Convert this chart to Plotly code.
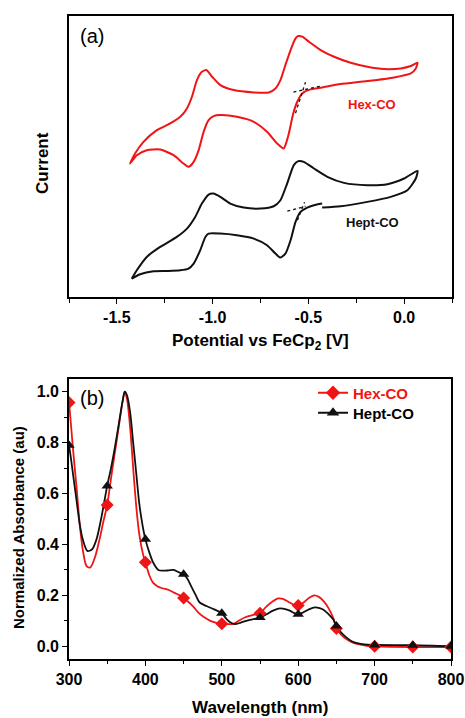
import plotly.graph_objects as go

# ---------------- Panel (a): cyclic voltammograms ----------------
hex_cv_potential = [
    -1.431, -1.405, -1.361, -1.291, -1.222, -1.169, -1.134, -1.108, -1.082, -1.056,
    -1.033, -1.003, -0.960, -0.890, -0.785, -0.707, -0.672, -0.646, -0.620, -0.593,
    -0.567, -0.553, -0.532, -0.497, -0.436, -0.366, -0.279, -0.192, -0.105, -0.017,
    0.035, 0.070,
    0.061, 0.035, -0.052, -0.192, -0.332, -0.428, -0.489, -0.532, -0.558, -0.579,
    -0.602, -0.620, -0.628, -0.663, -0.716, -0.785, -0.873, -0.960, -0.995, -1.021,
    -1.047, -1.073, -1.099, -1.126, -1.152, -1.204, -1.274, -1.344, -1.396, -1.431]
hex_cv_current = [
    4.00, 4.30, 4.65, 5.00, 5.20, 5.40, 5.65, 6.00, 6.50, 6.75,
    6.80, 6.60, 6.35, 6.20, 6.13, 6.13, 6.25, 6.50, 6.95, 7.40,
    7.75, 7.82, 7.80, 7.65, 7.40, 7.20, 7.02, 6.90, 6.83, 6.85,
    6.92, 7.02,
    6.85, 6.70, 6.58, 6.47, 6.38, 6.28, 6.22, 6.10, 5.85, 5.50,
    4.90, 4.55, 4.45, 4.60, 4.95, 5.25, 5.40, 5.45, 5.42, 5.30,
    4.95, 4.40, 4.05, 3.90, 4.00, 4.25, 4.42, 4.40, 4.25, 4.00]

hept_cv_potential = [
    -1.422, -1.396, -1.344, -1.274, -1.187, -1.134, -1.091, -1.056, -1.021, -0.995,
    -0.960, -0.908, -0.838, -0.750, -0.681, -0.646, -0.611, -0.576, -0.553, -0.524,
    -0.471, -0.401, -0.314, -0.192, -0.087, 0.000, 0.070,
    0.061, 0.017, -0.070, -0.192, -0.332, -0.428, None,
    -0.428, -0.471, -0.506, -0.541, -0.567, -0.593, -0.620, -0.646, -0.672, -0.716,
    -0.785, -0.873, -0.960, -1.021, -1.038, -1.065, -1.099, -1.126, -1.169, -1.239,
    -1.309, -1.379, -1.422]
hept_cv_current = [
    0.55, 0.80, 1.20, 1.50, 1.80, 2.05, 2.40, 2.80, 3.07, 3.10,
    3.00, 2.80, 2.68, 2.65, 2.72, 2.90, 3.40, 3.95, 4.07, 4.05,
    3.85, 3.60, 3.42, 3.35, 3.38, 3.55, 3.78,
    3.55, 3.20, 3.00, 2.85, 2.72, 2.68, None,
    2.80, 2.75, 2.68, 2.55, 2.25, 1.70, 1.30, 1.18, 1.30, 1.55,
    1.75, 1.85, 1.90, 1.90, 1.80, 1.40, 1.00, 0.85, 0.80, 0.78,
    0.77, 0.68, 0.55]

# tangent (baseline) construction lines, dotted
hex_tangent1_potential = [-0.567, -0.515]
hex_tangent1_current = [5.51, 6.44]
hex_tangent2_potential = [-0.578, -0.436]
hex_tangent2_current = [6.14, 6.32]
hept_tangent1_potential = [-0.557, -0.520]
hept_tangent1_current = [2.30, 2.84]
hept_tangent2_potential = [-0.610, -0.515]
hept_tangent2_current = [2.57, 2.72]

cv_tickvals = [-1.5, -1.0, -0.5, 0.0]
cv_ticktext = ["-1.5", "-1.0", "-0.5", "0.0"]

# ---------------- Panel (b): UV-vis absorbance ----------------
hex_wavelength = [
    300, 302, 306, 310, 314, 318, 323, 328, 334, 340, 345, 350, 355, 360, 365, 370,
    373, 376, 380, 384, 388, 392, 397, 400, 405, 410, 415, 422, 430, 438, 445, 450,
    456, 462, 470, 478, 485, 493, 500, 508, 515, 522, 530, 540, 550, 558, 566, 574,
    580, 587, 594, 600, 607, 614, 621, 627, 633, 640, 646, 650, 655, 662, 670, 680,
    690, 700, 750, 800]
hex_absorbance = [
    0.96, 0.89, 0.75, 0.62, 0.48, 0.38, 0.315, 0.31, 0.35, 0.42, 0.49, 0.555, 0.66, 0.76, 0.86, 0.96,
    1.00, 0.97, 0.86, 0.70, 0.55, 0.44, 0.36, 0.33, 0.28, 0.25, 0.237, 0.228, 0.222, 0.21, 0.20, 0.19,
    0.175, 0.158, 0.13, 0.112, 0.10, 0.092, 0.088, 0.087, 0.088, 0.10, 0.113, 0.122, 0.13, 0.155, 0.175, 0.188,
    0.186, 0.175, 0.163, 0.16, 0.172, 0.19, 0.20, 0.194, 0.178, 0.148, 0.11, 0.07, 0.05, 0.03, 0.016, 0.007,
    0.002, 0.0, -0.003, -0.003]

hept_wavelength = [
    300, 302, 306, 310, 314, 318, 324, 330, 336, 342, 350, 355, 360, 365, 370, 373,
    376, 380, 384, 388, 392, 396, 400, 405, 410, 417, 423, 430, 437, 444, 450, 455,
    460, 466, 471, 480, 490, 500, 506, 511, 517, 525, 532, 540, 550, 558, 567, 574,
    580, 589, 595, 600, 606, 614, 622, 628, 634, 640, 646, 650, 656, 663, 670, 680,
    690, 700, 750, 800]
hept_absorbance = [
    0.79, 0.75, 0.66, 0.57, 0.48, 0.42, 0.375, 0.38, 0.42, 0.50, 0.63, 0.70, 0.78, 0.87, 0.96, 1.00,
    0.985, 0.92, 0.80, 0.68, 0.56, 0.48, 0.42, 0.37, 0.33, 0.30, 0.297, 0.298, 0.30, 0.29, 0.283, 0.265,
    0.235, 0.20, 0.172, 0.158, 0.145, 0.13, 0.108, 0.094, 0.087, 0.093, 0.10, 0.106, 0.113, 0.125, 0.14, 0.148,
    0.148, 0.14, 0.13, 0.126, 0.132, 0.145, 0.153, 0.15, 0.142, 0.125, 0.105, 0.08, 0.055, 0.035, 0.02, 0.01,
    0.006, 0.005, 0.004, 0.0]

marker_wavelength = [300, 350, 400, 450, 500, 550, 600, 650, 700, 750, 800]
hex_marker_abs = [0.958, 0.555, 0.33, 0.19, 0.088, 0.13, 0.16, 0.07, 0.0, -0.003, -0.003]
hept_marker_abs = [0.79, 0.63, 0.42, 0.283, 0.13, 0.113, 0.126, 0.08, 0.005, 0.004, 0.0]

RED = "#f01414"
BLACK = "#111111"
FONT = "Liberation Sans, Arial, sans-serif"

W, H = 465, 718
def px_x(p):
    return p / W
def px_y(p):
    return 1 - p / H

fig = go.Figure()

# panel a traces
fig.add_trace(go.Scatter(x=hex_cv_potential, y=hex_cv_current, mode="lines",
                         line=dict(color=RED, width=2, shape="spline", smoothing=0.6),
                         xaxis="x", yaxis="y", showlegend=False, connectgaps=False))
fig.add_trace(go.Scatter(x=hept_cv_potential, y=hept_cv_current, mode="lines",
                         line=dict(color=BLACK, width=2, shape="spline", smoothing=0.6),
                         xaxis="x", yaxis="y", showlegend=False, connectgaps=False))
for xs, ys in [(hex_tangent1_potential, hex_tangent1_current),
               (hex_tangent2_potential, hex_tangent2_current),
               (hept_tangent1_potential, hept_tangent1_current),
               (hept_tangent2_potential, hept_tangent2_current)]:
    fig.add_trace(go.Scatter(x=xs, y=ys, mode="lines",
                             line=dict(color=BLACK, width=1.3, dash="dot"),
                             xaxis="x", yaxis="y", showlegend=False))

# panel b traces
fig.add_trace(go.Scatter(x=hex_wavelength, y=hex_absorbance, mode="lines",
                         line=dict(color=RED, width=1.8, shape="spline", smoothing=0.8),
                         xaxis="x2", yaxis="y2", showlegend=False))
fig.add_trace(go.Scatter(x=hept_wavelength, y=hept_absorbance, mode="lines",
                         line=dict(color=BLACK, width=1.8, shape="spline", smoothing=0.8),
                         xaxis="x2", yaxis="y2", showlegend=False))
fig.add_trace(go.Scatter(x=marker_wavelength, y=hex_marker_abs, mode="markers",
                         marker=dict(symbol="diamond", size=10, color=RED),
                         xaxis="x2", yaxis="y2", showlegend=False, cliponaxis=True))
fig.add_trace(go.Scatter(x=marker_wavelength, y=hept_marker_abs, mode="markers",
                         marker=dict(symbol="triangle-up", size=10, color=BLACK),
                         xaxis="x2", yaxis="y2", showlegend=False, cliponaxis=True))
# legend entries (two single-item legends for exact row spacing)
fig.add_trace(go.Scatter(x=[None], y=[None], mode="lines+markers",
                         name="<span style='color:%s'><b>Hex-CO</b></span>" % RED,
                         line=dict(color=RED, width=2),
                         marker=dict(symbol="diamond", size=11, color=RED),
                         xaxis="x2", yaxis="y2", showlegend=True, legend="legend"))
fig.add_trace(go.Scatter(x=[None], y=[None], mode="lines+markers",
                         name="<b>Hept-CO</b>",
                         line=dict(color=BLACK, width=2),
                         marker=dict(symbol="triangle-up", size=11, color=BLACK),
                         xaxis="x2", yaxis="y2", showlegend=True, legend="legend2"))

frame = dict(showline=True, linecolor="black", linewidth=1.6, mirror=True,
             showgrid=False, zeroline=False, automargin=False)
tickfont = dict(family=FONT, size=16, color="black", weight="bold")
legfont = dict(family=FONT, size=15, color="black")

fig.update_layout(
    width=W, height=H,
    autosize=False,
    margin=dict(l=0, r=0, t=0, b=0, pad=0, autoexpand=False),
    paper_bgcolor="white", plot_bgcolor="white",
    xaxis=dict(domain=[px_x(69), px_x(452)], anchor="y", range=[-1.75, 0.25],
               tickmode="array", tickvals=cv_tickvals, ticktext=cv_ticktext,
               ticks="outside", ticklen=5, tickwidth=1.3, tickcolor="black",
               minor=dict(ticks="outside", dtick=0.25, tick0=0, ticklen=4, tickwidth=1.3, tickcolor="black"),
               tickfont=tickfont, **frame),
    yaxis=dict(domain=[px_y(297), px_y(16)], anchor="x", range=[0, 8.42],
               showticklabels=False, ticks="", **frame),
    xaxis2=dict(domain=[px_x(69), px_x(451)], anchor="y2", range=[300, 800],
                tick0=300, dtick=100,
                ticks="outside", ticklen=5, tickwidth=1.3, tickcolor="black",
                minor=dict(ticks="outside", dtick=50, ticklen=3, tickwidth=1.3, tickcolor="black"),
                tickfont=tickfont, **frame),
    yaxis2=dict(domain=[px_y(659), px_y(379)], anchor="x2", range=[-0.05, 1.05],
                tick0=0, dtick=0.2, tickformat=".1f",
                ticks="outside", ticklen=5, tickwidth=1.3, tickcolor="black",
                minor=dict(ticks="outside", dtick=0.1, ticklen=3, tickwidth=1.3, tickcolor="black"),
                tickfont=tickfont, **frame),
    legend=dict(x=px_x(313), y=px_y(393), xanchor="left", yanchor="middle",
                bgcolor="rgba(0,0,0,0)", font=legfont, itemwidth=30),
    legend2=dict(x=px_x(313), y=px_y(413), xanchor="left", yanchor="middle",
                 bgcolor="rgba(0,0,0,0)", font=legfont, itemwidth=30),
    showlegend=True,
)

ann = [
    dict(text="(a)", x=px_x(92), y=px_y(36), font=dict(family=FONT, size=20, color="black")),
    dict(text="<b>Hex-CO</b>", x=px_x(372), y=px_y(104), font=dict(family=FONT, size=13, color=RED)),
    dict(text="<b>Hept-CO</b>", x=px_x(372), y=px_y(222), font=dict(family=FONT, size=13, color=BLACK)),
    dict(text="<b>Current</b>", x=px_x(42), y=px_y(163), textangle=-90,
         font=dict(family=FONT, size=17, color="black")),
    dict(text="<b>Potential vs FeCp<sub>2</sub> [V]</b>", x=px_x(260), y=px_y(342),
         font=dict(family=FONT, size=17, color="black")),
    dict(text="(b)", x=px_x(92), y=px_y(398), font=dict(family=FONT, size=20, color="black")),
    dict(text="<b>Normalized Absorbance (au)</b>", x=px_x(18), y=px_y(528), textangle=-90,
         font=dict(family=FONT, size=15, color="black")),
    dict(text="<b>Wavelength (nm)</b>", x=px_x(260), y=px_y(707),
         font=dict(family=FONT, size=17, color="black")),
]
for a in ann:
    a.update(xref="paper", yref="paper", showarrow=False, xanchor="center", yanchor="middle")
fig.update_layout(annotations=ann)

fig.write_html("out.html")
